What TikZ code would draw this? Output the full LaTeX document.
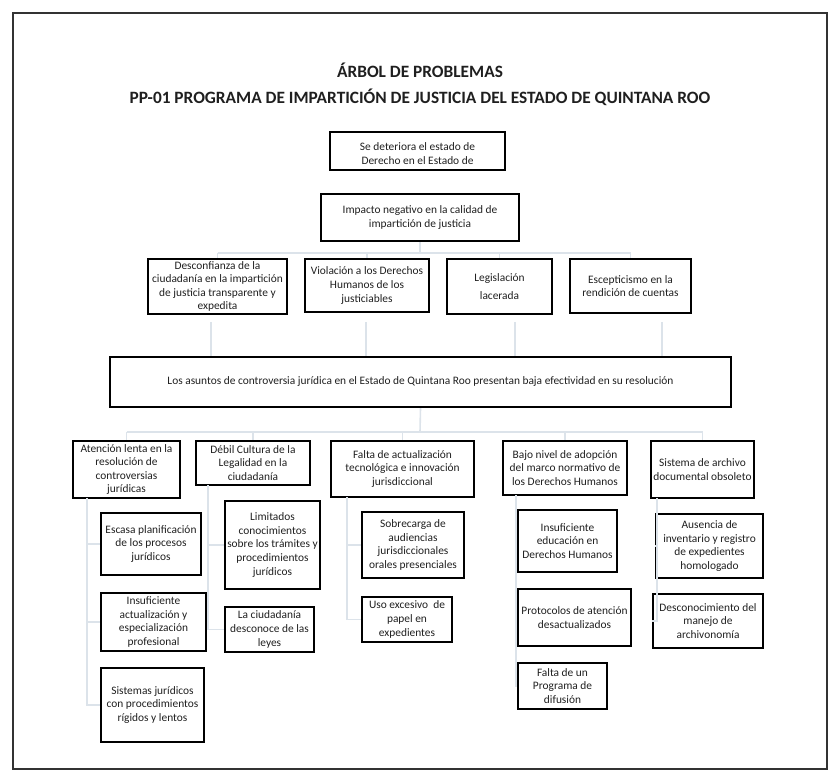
\documentclass[tikz,border=0pt]{standalone}
\usepackage{fontspec}
\setmainfont{Carlito}
\usepackage{tikz}

\definecolor{lineagris}{HTML}{DCE3EA}
\definecolor{marco}{HTML}{333333}

\tikzset{
  caja/.style = {draw = black, line width = 2.2pt, align = center, inner sep = 0pt,
                 font = \fontsize{11.4}{13.6}\selectfont, text = black!88},
  conector/.style = {draw = lineagris, line width = 1.6pt},
  titulo/.style = {font = \fontsize{17.3}{20}\selectfont\bfseries, text = black!88}
}

\begin{document}
\begin{tikzpicture}[x = 1pt, y = -1pt]
\useasboundingbox (0, 0) rectangle (840, 783);
\draw [marco, line width = 2pt] (13, 13) rectangle (827, 769);

% titulo
\node [titulo] (t1) at (420, 70) {ÁRBOL DE PROBLEMAS};
\node [titulo] (t2) at (420, 97) {PP-01 PROGRAMA DE IMPARTICIÓN DE JUSTICIA DEL ESTADO DE QUINTANA ROO};

% efectos
\node [caja, minimum width = 175, minimum height = 38] (fin) at (417.5, 151) {};
\node [text = black!88, font = \fontsize{11.4}{13.6}\selectfont, align = center, anchor = north] (fintxt) at (417.5, 139) {Se deteriora el estado de\\Derecho en el Estado de};
\node [caja, minimum width = 198, minimum height = 47] (imp) at (420, 217.5) {Impacto negativo en la calidad de\\impartición de justicia};
\node [caja, minimum width = 139, minimum height = 55] (efA) at (217.5, 286.5) {Desconfianza de la\\ciudadanía en la impartición\\de justicia transparente y\\expedita};
\node [caja, minimum width = 124, minimum height = 53] (efB) at (367, 285.5) {Violación a los Derechos\\Humanos de los\\justiciables};
\node [caja, minimum width = 105, minimum height = 55] (efC) at (499.5, 286.5) {Legislación\\[5pt]lacerada};
\node [caja, minimum width = 121, minimum height = 54] (efD) at (630.5, 286) {Escepticismo en la\\rendición de cuentas};

% problema central
\node [caja, minimum width = 621, minimum height = 50] (centro) at (420.5, 382) {Los asuntos de controversia jurídica en el Estado de Quintana Roo presentan baja efectividad en su resolución};

% causas
\node [caja, minimum width = 107, minimum height = 57] (c1) at (126.5, 469.5) {Atención lenta en la\\resolución de\\controversias\\jurídicas};
\node [caja, minimum width = 114, minimum height = 44] (c2) at (253, 463) {Débil Cultura de la\\Legalidad en la\\ciudadanía};
\node [caja, minimum width = 143, minimum height = 56] (c3) at (402.5, 469) {Falta de actualización\\tecnológica e innovación\\jurisdiccional};
\node [caja, minimum width = 124, minimum height = 54] (c4) at (565, 468) {Bajo nivel de adopción\\del marco normativo de\\los Derechos Humanos};
\node [caja, minimum width = 103, minimum height = 57] (c5) at (702.5, 469.5) {Sistema de archivo\\documental obsoleto};

% subcausas
\node [caja, minimum width = 100, minimum height = 62] (s11) at (151, 544) {Escasa planificación\\de los procesos\\jurídicos};
\node [caja, minimum width = 105, minimum height = 58] (s12) at (153.5, 622) {Insuficiente\\actualización y\\especialización\\profesional};
\node [caja, minimum width = 103, minimum height = 74] (s13) at (152.5, 705) {Sistemas jurídicos\\con procedimientos\\rígidos y lentos};
\node [caja, minimum width = 95, minimum height = 88] (s21) at (272.5, 545) {Limitados\\conocimientos\\sobre los trámites y\\procedimientos\\jurídicos};
\node [caja, minimum width = 89, minimum height = 45] (s22) at (269.5, 629.5) {La ciudadanía\\desconoce de las\\leyes};
\node [caja, minimum width = 102, minimum height = 66] (s31) at (413, 545) {Sobrecarga de\\audiencias\\jurisdiccionales\\orales presenciales};
\node [caja, minimum width = 90, minimum height = 45] (s32) at (407, 619.5) {Uso excesivo~ de\\papel en\\expedientes};
\node [caja, minimum width = 99, minimum height = 62] (s41) at (567.5, 541) {Insuficiente\\educación en\\Derechos Humanos};
\node [caja, minimum width = 113, minimum height = 57] (s42) at (574.5, 617.5) {Protocolos de atención\\desactualizados};
\node [caja, minimum width = 89, minimum height = 46] (s43) at (562.5, 686) {Falta de un\\Programa de\\difusión};
\node [caja, minimum width = 107, minimum height = 64] (s51) at (709.5, 546) {Ausencia de\\inventario y registro\\de expedientes\\homologado};
\node [caja, minimum width = 110, minimum height = 54] (s52) at (708, 621) {Desconocimiento del\\manejo de\\archivonomía};

% conectores de efectos
\coordinate (r1) at (420, 253);
\draw [conector] (imp.south) -- (r1);
\draw [conector] (efA.north |- r1) -- (efD.north |- r1);
\foreach \e in {efA, efB, efC, efD} \draw [conector] (\e.north |- r1) -- (\e.north);
\foreach \x in {211, 366, 515, 662} {
  \coordinate (e\x) at (\x, 322);
  \draw [conector] (e\x) -- (e\x |- centro.north);
}

% conectores de causas
\coordinate (r2) at (420, 432);
\draw [conector] (centro.south) -- (r2);
\draw [conector] (c1.north |- r2) -- (c5.north |- r2);
\foreach \c in {c1, c2, c3, c4, c5} \draw [conector] (\c.north |- r2) -- (\c.north);

% conectores de subcausas
\coordinate (b1) at (87, 498);
\coordinate (b2) at (208, 485);
\coordinate (b3) at (347, 497);
\coordinate (b4) at (516, 495);
\coordinate (b5) at (657, 498);
\draw [conector] (b1) |- (s11.west); \draw [conector] (b1) |- (s12.west); \draw [conector] (b1) |- (s13.west);
\draw [conector] (b2) |- (s21.west); \draw [conector] (b2) |- (s22.west);
\draw [conector] (b3) |- (s31.west); \draw [conector] (b3) |- (s32.west);
\draw [conector] (b4) |- (s41.west); \draw [conector] (b4) |- (s42.west); \draw [conector] (b4) |- (s43.west);
\draw [conector] (b5) |- (s51.west); \draw [conector] (b5) |- (s52.west);
\end{tikzpicture}
\end{document}
